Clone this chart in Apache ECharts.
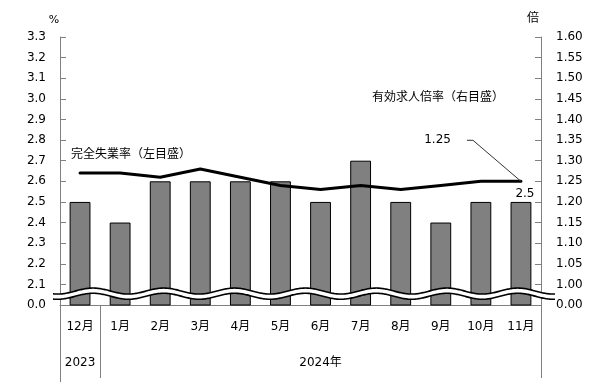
<!DOCTYPE html>
<html>
<head>
<meta charset="utf-8">
<script src="https://cdn.jsdelivr.net/npm/echarts@6/dist/echarts.min.js"></script>
<style>html,body{margin:0;padding:0;background:#fff;}#c{width:606px;height:382px;}</style>
</head>
<body>
<div id="c"></div>
<script>
var months = ['12月','1月','2月','3月','4月','5月','6月','7月','8月','9月','10月','11月'];
var unemployment = [2.5, 2.4, 2.6, 2.6, 2.6, 2.6, 2.5, 2.7, 2.5, 2.4, 2.5, 2.5];
var jobRatio = [1.27, 1.27, 1.26, 1.28, 1.26, 1.24, 1.23, 1.24, 1.23, 1.24, 1.25, 1.25];
var years = [{label:'2023', from:0, to:0}, {label:'2024年', from:1, to:11}];
var leftTicks = {min:2.0, max:3.3, interval:0.1, breakLabel:'0.0', digits:1};
var rightTicks = {min:0.95, max:1.60, interval:0.05, breakLabel:'0.00', digits:2};

var FONT = 'DejaVu Sans, "Noto Sans CJK JP", sans-serif';
var chart = echarts.init(document.getElementById('c'));
var GL = 60, GR = 65, GT = 37, GB = 77;

function fmt(t){
  return function(v){
    if (v < t.min + t.interval/2) return t.breakLabel;
    return v.toFixed(t.digits);
  };
}

chart.setOption({
  animation:false,
  backgroundColor:'#fff',
  grid:{left:GL, right:GR, top:GT, bottom:GB, containLabel:false},
  xAxis:{
    type:'category', data:months, boundaryGap:true,
    axisLine:{show:true, lineStyle:{color:'#808080', width:1}},
    axisTick:{show:false},
    axisLabel:{color:'#000', fontSize:12, fontFamily:FONT, margin:16, interval:0},
    splitLine:{show:false}
  },
  yAxis:[{
    type:'value', min:leftTicks.min, max:leftTicks.max, interval:leftTicks.interval,
    position:'left',
    axisLine:{show:true, lineStyle:{color:'#808080'}},
    axisTick:{show:true, inside:true, length:6, lineStyle:{color:'#808080'}},
    axisLabel:{color:'#000', fontSize:12, fontFamily:FONT, margin:14, formatter:fmt(leftTicks)},
    splitLine:{show:false}
  },{
    type:'value', min:rightTicks.min, max:rightTicks.max, interval:rightTicks.interval,
    position:'right',
    axisLine:{show:true, lineStyle:{color:'#808080'}},
    axisTick:{show:true, inside:true, length:6, lineStyle:{color:'#808080'}},
    axisLabel:{color:'#000', fontSize:12, fontFamily:FONT, margin:15, formatter:fmt(rightTicks)},
    splitLine:{show:false}
  }],
  series:[{
    type:'bar', yAxisIndex:0, barWidth:'52%', z:2,
    data: unemployment.map(function(v,i){
      var d = {value:v};
      if (i === unemployment.length-1) {
        d.label = {show:true, position:'top', distance:2, offset:[4,0], color:'#000', fontSize:12, fontFamily:FONT,
                   formatter:function(p){return p.value.toFixed(1);}};
      }
      return d;
    }),
    itemStyle:{color:'#808080', borderColor:'#000', borderWidth:1}
  },{
    type:'line', yAxisIndex:1, data:jobRatio, z:5,
    showSymbol:false, symbol:'none',
    lineStyle:{color:'#000', width:3, join:'round', cap:'round'}
  }]
});

function buildGraphics(){
  var els = [];
  var x0 = GL, x1 = 606 - GR, yb = 382 - GB;
  // axis break wave
  var cy = chart.convertToPixel({yAxisIndex:0}, 2.055);
  var P = 70.8, A = 3, H = 2.6, phase = 93;
  var up = [], lo = [];
  for (var x = x0 - 7; x <= x1 + 14; x += 1) {
    var w = -A*Math.cos(2*Math.PI*(x - phase)/P);
    up.push([x, cy - H + w]);
    lo.push([x, cy + H + w]);
  }
  var poly = up.concat(lo.slice().reverse());
  els.push({type:'polygon', shape:{points:poly}, style:{fill:'#fff'}, z:100});
  els.push({type:'polyline', shape:{points:up}, style:{stroke:'#000', lineWidth:1.6, fill:null}, z:101});
  els.push({type:'polyline', shape:{points:lo}, style:{stroke:'#000', lineWidth:1.6, fill:null}, z:101});

  // vertical separators below x axis & year labels
  var catW = (x1 - x0) / months.length;
  els.push({type:'line', shape:{x1:x0+0.5, y1:yb, x2:x0+0.5, y2:382}, style:{stroke:'#808080', lineWidth:1}, z:10});
  years.forEach(function(y, i){
    var left = x0 + y.from*catW, right = x0 + (y.to+1)*catW;
    var bottom = 378;
    els.push({type:'line', shape:{x1:Math.round(right)+0.5, y1:yb, x2:Math.round(right)+0.5, y2:bottom}, style:{stroke:'#808080', lineWidth:1}, z:10});
    els.push({type:'text', x:(left+right)/2, y:yb+58, style:{text:y.label, fill:'#000', font:'12px '+FONT, align:'center', verticalAlign:'middle'}, z:10});
  });

  // axis unit labels
  els.push({type:'text', x:54, y:20, style:{text:'%', fill:'#000', font:'11px '+FONT, align:'center', verticalAlign:'middle'}});
  els.push({type:'text', x:533, y:17, style:{text:'倍', fill:'#000', font:'12px "Noto Sans CJK JP", sans-serif', align:'center', verticalAlign:'middle'}});

  // series labels
  els.push({type:'text', x:71, y:153, style:{text:'完全失業率（左目盛）', fill:'#000', font:'12px "Noto Sans CJK JP", sans-serif', align:'left', verticalAlign:'middle'}});
  els.push({type:'text', x:372, y:96, style:{text:'有効求人倍率（右目盛）', fill:'#000', font:'12px "Noto Sans CJK JP", sans-serif', align:'left', verticalAlign:'middle'}});

  // leader annotation for last job ratio value
  var li = jobRatio.length - 1;
  var p = chart.convertToPixel({xAxisIndex:0, yAxisIndex:1}, [li, jobRatio[li]]);
  els.push({type:'polyline', shape:{points:[[p[0], p[1]], [p[0]-48, p[1]-41], [p[0]-54, p[1]-41]]}, style:{stroke:'#333', lineWidth:1, fill:null}, z:20});
  els.push({type:'text', x:p[0]-70, y:p[1]-41, style:{text:jobRatio[li].toFixed(2), fill:'#000', font:'12px '+FONT, align:'right', verticalAlign:'middle'}, z:20});
  return els;
}
chart.setOption({graphic:{elements:buildGraphics()}});
</script>
</body>
</html>
